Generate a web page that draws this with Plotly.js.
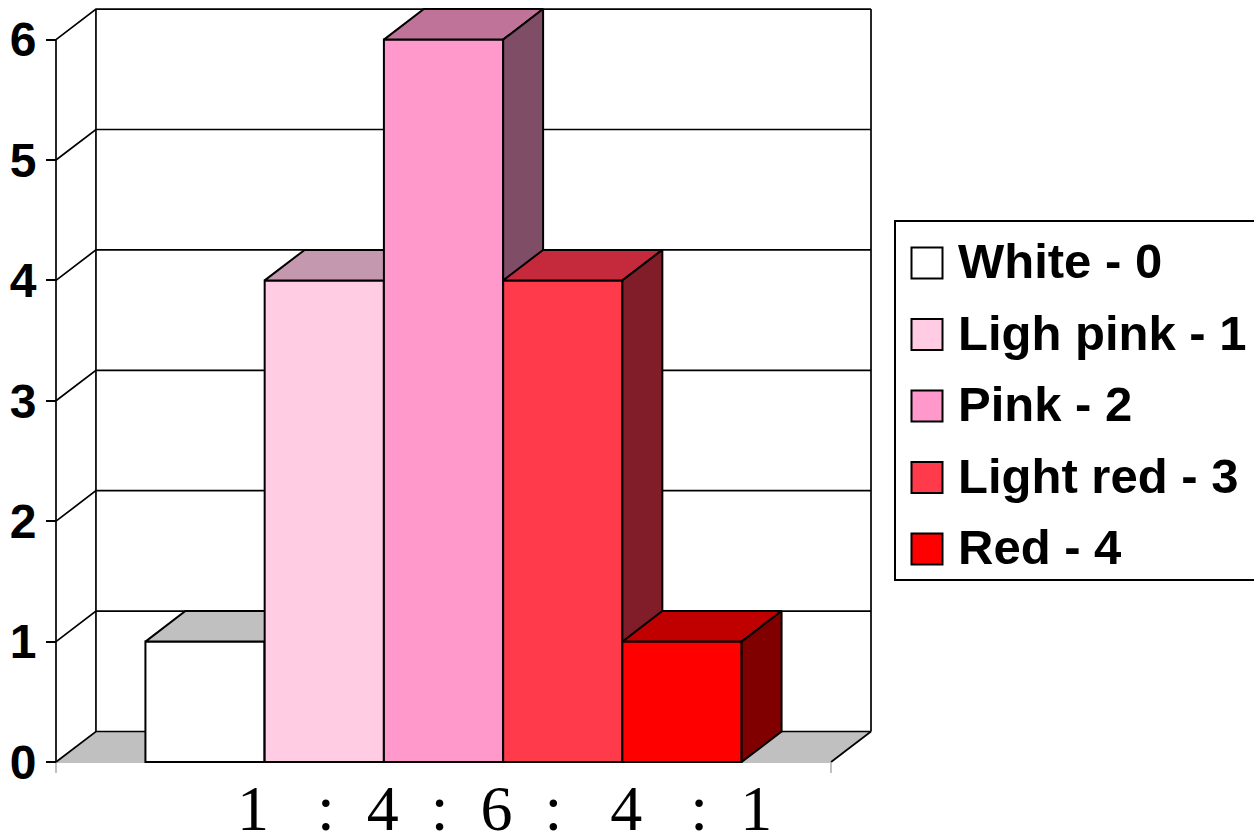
<!DOCTYPE html>
<html>
<head>
<meta charset="utf-8">
<script src="https://cdn.plot.ly/plotly-3.0.1.min.js"></script>
<style>
  html, body { margin: 0; padding: 0; background: #ffffff; }
  #chart { width: 1254px; height: 836px; }
</style>
</head>
<body>
<div id="chart"></div>
<script>
// ---------------- data ----------------
const categories = ['1   :  4  :  6  :   4   :  1'];
const seriesNames = ['White - 0', 'Ligh pink - 1', 'Pink - 2', 'Light red - 3', 'Red - 4'];
const seriesValues = [1, 4, 6, 4, 1];
const yTicks = [0, 1, 2, 3, 4, 5, 6];

// ---------------- styles ----------------
const frontColors = ['#ffffff', '#ffcce4', '#ff99cc', '#ff3a4a', '#ff0000'];
const topColors   = ['#c0c0c0', '#c498ae', '#c07399', '#c42a3c', '#c00000'];
const sideColors  = ['#808080', '#80667a', '#804d66', '#801d28', '#800000'];
const floorColor = '#c0c0c0';
const SANS = 'Liberation Sans, Arial, sans-serif';
const SERIF = 'Liberation Serif, Times New Roman, serif';

// ---------------- geometry (layout constants) ----------------
const W = 1254, H = 836;
const PXX = 119.24, PXY = 120.4;   // pixels per axis unit
const X0 = 56, Y0 = 762;           // pixel of the front origin
const GAP = 0.75;                  // space before first bar (in bar widths)
const DX = 0.335, DY = 0.2535;     // 3-D depth offset in axis units
const PAD = 0.05;
const nBars = seriesValues.length;
const FLOOR = GAP * 2 + nBars;     // front floor length
const YMAX = yTicks[yTicks.length - 1];
const LABEL_X = 3.765;             // position of the category label
const xr = [-PAD, FLOOR + DX + PAD];
const yr = [-PAD, YMAX + DY + PAD];
const xDomain = [(X0 + xr[0] * PXX) / W, (X0 + xr[1] * PXX) / W];
const yDomain = [1 - (Y0 - yr[0] * PXY) / H, 1 - (Y0 - yr[1] * PXY) / H];

const traces = [];

// floor
traces.push({
  type: 'scatter', mode: 'lines', x: [0, FLOOR, FLOOR + DX, DX, 0], y: [0, 0, DY, DY, 0],
  fill: 'toself', fillcolor: floorColor, line: {width: 0}, hoverinfo: 'skip', showlegend: false
});
// front floor edge (gray)
traces.push({
  type: 'scatter', mode: 'lines', x: [0, FLOOR], y: [0, 0],
  line: {color: floorColor, width: 2}, hoverinfo: 'skip', showlegend: false
});
// walls: gridlines on side wall and back wall, wall edges
const wx = [], wy = [];
yTicks.forEach(t => {
  wx.push(0, DX, FLOOR + DX, null);
  wy.push(t, t + DY, t + DY, null);
});
wx.push(DX, DX, null, FLOOR + DX, FLOOR + DX, null, FLOOR, FLOOR + DX, null, 0, 0);
wy.push(DY, YMAX + DY, null, DY, YMAX + DY, null, 0, DY, null, 0, YMAX);
traces.push({
  type: 'scatter', mode: 'lines', x: wx, y: wy, connectgaps: false,
  line: {color: '#000000', width: 1.7}, hoverinfo: 'skip', showlegend: false
});

// bars, each in its own overlaid subplot so later bars cover earlier ones
seriesValues.forEach((v, i) => {
  const ax = 'x' + (i + 2), ay = 'y' + (i + 2);
  const L = GAP + i, R = GAP + i + 1;
  traces.push({
    type: 'bar', x: [L + 0.5], y: [v], width: [1], name: seriesNames[i],
    marker: {color: frontColors[i], line: {color: '#000000', width: 2}},
    xaxis: ax, yaxis: ay, hoverinfo: 'skip', showlegend: false
  });
  traces.push({
    type: 'scatter', mode: 'lines', x: [L, R, R + DX, L + DX, L], y: [v, v, v + DY, v + DY, v],
    fill: 'toself', fillcolor: topColors[i], line: {color: '#000000', width: 2},
    xaxis: ax, yaxis: ay, hoverinfo: 'skip', showlegend: false
  });
  traces.push({
    type: 'scatter', mode: 'lines', x: [R, R + DX, R + DX, R, R], y: [0, DY, v + DY, v, 0],
    fill: 'toself', fillcolor: sideColors[i], line: {color: '#000000', width: 2},
    xaxis: ax, yaxis: ay, hoverinfo: 'skip', showlegend: false
  });
});

// legend (own subplot, pixel units)
const LEG = {x0: 895, x1: 1254, y0: 221, y1: 580, symX: 927, textX: 958, firstY: 266, rowH: 71.5};
const legY = seriesNames.map((_, i) => LEG.firstY + i * LEG.rowH);
traces.push({
  type: 'scatter', mode: 'markers', x: seriesNames.map(() => LEG.symX), y: legY.map(y => y - 3),
  marker: {symbol: 'square', size: 31, color: frontColors, line: {color: '#000000', width: 2}},
  xaxis: 'x7', yaxis: 'y7', hoverinfo: 'skip', showlegend: false, cliponaxis: false
});
traces.push({
  type: 'scatter', mode: 'text', x: seriesNames.map(() => LEG.textX), y: legY,
  text: seriesNames, textposition: 'middle right',
  textfont: {family: SANS, size: 49, color: '#000000', weight: 'bold'},
  xaxis: 'x7', yaxis: 'y7', hoverinfo: 'skip', showlegend: false, cliponaxis: false
});

const layout = {
  width: W, height: H,
  margin: {l: 0, r: 0, t: 0, b: 0, pad: 0},
  paper_bgcolor: '#ffffff', plot_bgcolor: 'rgba(0,0,0,0)',
  showlegend: false, hovermode: false,
  xaxis: {
    domain: xDomain, range: xr, anchor: 'free', position: 1 - Y0 / H,
    showgrid: false, zeroline: false, showline: false,
    tickmode: 'array', tickvals: [0, FLOOR], ticks: 'outside', ticklen: 10, tickwidth: 2,
    tickcolor: floorColor, showticklabels: false, fixedrange: true
  },
  yaxis: {
    domain: yDomain, range: yr, anchor: 'free', position: X0 / W,
    showgrid: false, zeroline: false, showline: false,
    tickmode: 'array', tickvals: yTicks, ticktext: yTicks.map(String),
    ticks: 'outside', ticklen: 10, tickwidth: 2, tickcolor: '#000000',
    ticklabelstandoff: 0,
    tickfont: {family: SANS, size: 48, color: '#000000', weight: 'bold'}, fixedrange: true
  },
  xaxis7: {domain: [LEG.x0 / W, 1], range: [LEG.x0, W], visible: false, anchor: 'y7', fixedrange: true},
  yaxis7: {domain: [1 - LEG.y1 / H, 1 - LEG.y0 / H], range: [LEG.y1, LEG.y0], visible: false, anchor: 'x7', fixedrange: true},
  shapes: [{
    type: 'rect', xref: 'paper', yref: 'paper',
    x0: LEG.x0 / W, x1: 1.02, y0: 1 - LEG.y1 / H, y1: 1 - LEG.y0 / H,
    line: {color: '#000000', width: 2}, fillcolor: 'rgba(0,0,0,0)', layer: 'above'
  }],
  annotations: [{
    xref: 'x', yref: 'paper', x: LABEL_X, y: 1 - 808 / H, xanchor: 'center', yanchor: 'middle',
    text: categories[0].replace(/ /g, '\u00a0'), showarrow: false,
    font: {family: SERIF, size: 64, color: '#000000'}
  }]
};
for (let i = 0; i < nBars; i++) {
  layout['xaxis' + (i + 2)] = {overlaying: 'x', range: xr, visible: false, anchor: 'y' + (i + 2), fixedrange: true};
  layout['yaxis' + (i + 2)] = {overlaying: 'y', range: yr, visible: false, anchor: 'x' + (i + 2), fixedrange: true};
}

Plotly.newPlot('chart', traces, layout, {staticPlot: true, displayModeBar: false});
</script>
</body>
</html>
